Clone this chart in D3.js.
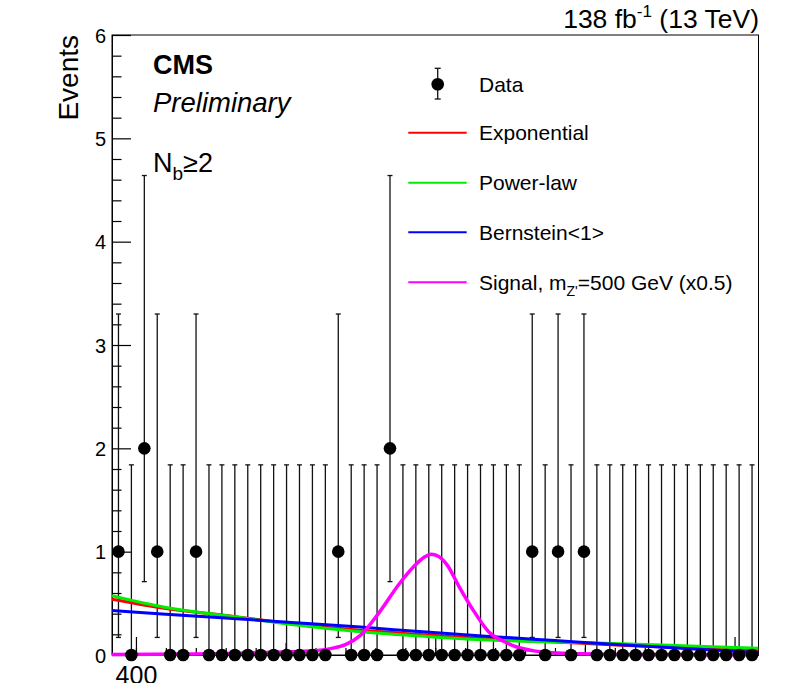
<!DOCTYPE html>
<html>
<head>
<meta charset="utf-8">
<script src="https://cdn.jsdelivr.net/npm/d3@7"></script>
<style>
  body { margin: 0; background: #fff; }
  svg text { font-family: "Liberation Sans", Arial, Helvetica, sans-serif; fill: #000; }
</style>
</head>
<body>
<div id="chart"></div>
<script>
// invariant mass window (GeV), 50 bins
var massRange = [392, 608];
var nBins = 50;
var counts = [1, 0, 2, 1, 0, 0, 1, 0, 0, 0,
              0, 0, 0, 0, 0, 0, 0, 1, 0, 0,
              0, 2, 0, 0, 0, 0, 0, 0, 0, 0,
              0, 0, 1, 0, 1, 0, 1, 0, 0, 0,
              0, 0, 0, 0, 0, 0, 0, 0, 0, 0];
// poisson 68% band, indexed by count
var poissonLow = [0, 0.17, 0.71];
var poissonHigh = [1.84, 3.30, 4.64];

// background fits, read at a few masses
var fitMass = [392, 410, 431, 452, 475, 497, 518, 540, 562, 585, 608];
var expoVals = [0.54, 0.45, 0.38, 0.30, 0.24, 0.195, 0.155, 0.125, 0.095, 0.07, 0.045];
var powVals = [0.574, 0.46, 0.377, 0.295, 0.226, 0.18, 0.145, 0.125, 0.11, 0.088, 0.065];
var bernVals = [0.43, 0.395, 0.355, 0.315, 0.27, 0.222, 0.18, 0.14, 0.10, 0.06, 0.022];

// signal shape (x0.5)
var sigMass = [392, 420, 431, 440, 450, 459, 465, 470, 475, 481.5, 488, 494, 496.5, 498.6, 501, 504, 508, 513, 518, 523, 527, 533, 541, 552, 562, 608];
var sigVals = [0.004, 0.01, 0.015, 0.022, 0.03, 0.04, 0.062, 0.10, 0.19, 0.42, 0.69, 0.89, 0.95, 0.975, 0.955, 0.87, 0.66, 0.42, 0.22, 0.13, 0.08, 0.04, 0.02, 0.01, 0.005, 0.002];

var yTicks = [0, 1, 2, 3, 4, 5, 6];
var xLabelTicks = [400];

var legendNames = ["Exponential", "Power-law", "Bernstein<1>"];
var legendColors = ["#ff0000", "#00ee00", "#0000ff"];

var W = 795, H = 683;
var pLeft = 112, pRight = 758.5, pTop = 35, pBottom = 655;

var svg = d3.select("#chart").append("svg")
    .attr("width", W).attr("height", H);

var x = d3.scaleLinear().domain(massRange).range([pLeft, pRight]);
var y = d3.scaleLinear().domain([0, 6]).range([pBottom, pTop]);

var binW = (massRange[1] - massRange[0]) / nBins;
var data = counts.map(function(c, i) {
    return { m: massRange[0] + (i + 0.5) * binW, n: c };
});

// frame
svg.append("rect")
    .attr("x", pLeft).attr("y", pTop)
    .attr("width", pRight - pLeft).attr("height", pBottom - pTop)
    .attr("fill", "none").attr("stroke", "#000").attr("stroke-width", 1);

// y axis, ticks pointing inside
var yMajor = svg.append("g")
    .attr("transform", "translate(" + pLeft + ",0)")
    .call(d3.axisLeft(y).tickValues(yTicks).tickSize(-19).tickSizeOuter(0).tickPadding(6).tickFormat(d3.format("d")));
yMajor.selectAll("text").style("font-size", "20px").attr("dy", "0.36em");
var yMinorVals = d3.range(0, 6.001, 0.2).filter(function(v) { return Math.abs(v - Math.round(v)) > 0.01; });
svg.append("g")
    .attr("transform", "translate(" + pLeft + ",0)")
    .call(d3.axisLeft(y).tickValues(yMinorVals).tickSize(-9.5).tickSizeOuter(0).tickFormat(""));

// x axis
var xMinorVals = d3.range(400, 601, 10);
svg.append("g")
    .attr("transform", "translate(0," + pBottom + ")")
    .call(d3.axisBottom(x).tickValues(xMinorVals).tickSize(-7).tickSizeOuter(0).tickFormat(""));
svg.append("g")
    .attr("transform", "translate(0," + pBottom + ")")
    .call(d3.axisBottom(x).tickValues([450, 550]).tickSize(-12).tickSizeOuter(0).tickFormat(""));
var xMajor = svg.append("g")
    .attr("transform", "translate(0," + pBottom + ")")
    .call(d3.axisBottom(x).tickValues([400, 500, 600]).tickSize(-18).tickSizeOuter(0).tickPadding(11)
        .tickFormat(function(d) { return xLabelTicks.indexOf(d) >= 0 ? d : ""; }));
xMajor.selectAll("text").style("font-size", "25px").attr("dy", "0.71em");
svg.selectAll(".domain").attr("stroke", "#000");
svg.selectAll(".tick line").attr("stroke", "#000").attr("stroke-width", 1.2);

// error bars
var eb = svg.append("g").attr("stroke", "#111").attr("stroke-width", 1.3);
data.forEach(function(d) {
    var xc = x(d.m);
    var lo = y(poissonLow[d.n]), hi = y(poissonHigh[d.n]);
    eb.append("line").attr("x1", xc).attr("x2", xc).attr("y1", lo).attr("y2", hi);
    eb.append("line").attr("x1", xc - 2.5).attr("x2", xc + 2.5).attr("y1", hi).attr("y2", hi);
    if (d.n > 0)
        eb.append("line").attr("x1", xc - 2.5).attr("x2", xc + 2.5).attr("y1", lo).attr("y2", lo);
});

// curves
svg.append("clipPath").attr("id", "plotclip")
    .append("rect").attr("x", pLeft).attr("y", pTop).attr("width", pRight - pLeft).attr("height", pBottom - pTop + 3);

function drawCurve(ms, vs, color, w) {
    var pts = ms.map(function(m, i) { return [x(m), y(vs[i])]; });
    svg.append("path")
        .attr("clip-path", "url(#plotclip)")
        .attr("d", d3.line().curve(d3.curveMonotoneX)(pts))
        .attr("fill", "none").attr("stroke", color).attr("stroke-width", w);
}
drawCurve(fitMass, expoVals, legendColors[0], 3);
drawCurve(fitMass, powVals, legendColors[1], 3);
drawCurve(fitMass, bernVals, legendColors[2], 3);
drawCurve(sigMass, sigVals, "#ff00ff", 3.5);

// markers
svg.append("g").selectAll("circle")
    .data(data).enter().append("circle")
    .attr("cx", function(d) { return x(d.m); })
    .attr("cy", function(d) { return y(d.n); })
    .attr("r", 6.3)
    .attr("fill", "#000");

// texts
svg.append("text")
    .attr("transform", "translate(78," + pTop + ") rotate(-90)")
    .attr("text-anchor", "end")
    .style("font-size", "28px")
    .text("Events");

var lumi = svg.append("text")
    .attr("x", 759).attr("y", 28)
    .attr("text-anchor", "end")
    .style("font-size", "26.5px");
lumi.append("tspan").text("138 fb");
lumi.append("tspan").attr("dy", -11).style("font-size", "17px").text("-1");
lumi.append("tspan").attr("dy", 11).text(" (13 TeV)");

svg.append("text").attr("x", 153).attr("y", 74)
    .style("font-size", "27px").style("font-weight", "bold").text("CMS");
svg.append("text").attr("x", 153).attr("y", 111.5)
    .style("font-size", "27.5px").style("font-style", "italic").text("Preliminary");
var nb = svg.append("text").attr("x", 153).attr("y", 171.5).style("font-size", "27px");
nb.append("tspan").text("N");
nb.append("tspan").attr("dy", 8).style("font-size", "19px").text("b");
nb.append("tspan").attr("dy", -8).text("\u22652");

// legend
var lg = svg.append("g");
var rowY = [84.3, 132.7, 182.7, 232.3, 282.3];
var lx1 = 408.3, lx2 = 466.7, tx = 479;
var mx = 437.7;
lg.append("line").attr("x1", mx).attr("x2", mx).attr("y1", 68.3).attr("y2", 99)
    .attr("stroke", "#111").attr("stroke-width", 1.3);
[68.3, 99].forEach(function(v) {
    lg.append("line").attr("x1", mx - 3).attr("x2", mx + 3).attr("y1", v).attr("y2", v)
        .attr("stroke", "#111").attr("stroke-width", 1.3);
});
lg.append("circle").attr("cx", mx).attr("cy", rowY[0]).attr("r", 6.3).attr("fill", "#000");
lg.append("text").attr("x", tx).attr("y", rowY[0]).attr("dy", "0.36em")
    .style("font-size", "21px").text("Data");

legendNames.forEach(function(name, i) {
    var yy = rowY[i + 1];
    lg.append("line").attr("x1", lx1).attr("x2", lx2).attr("y1", yy).attr("y2", yy)
        .attr("stroke", legendColors[i]).attr("stroke-width", 2);
    lg.append("text").attr("x", tx).attr("y", yy).attr("dy", "0.36em")
        .style("font-size", "21px").text(name);
});
lg.append("line").attr("x1", lx1).attr("x2", lx2).attr("y1", rowY[4]).attr("y2", rowY[4])
    .attr("stroke", "#ff00ff").attr("stroke-width", 2);
var sl = lg.append("text").attr("x", tx).attr("y", rowY[4]).attr("dy", "0.36em").style("font-size", "21px");
sl.append("tspan").text("Signal, m");
sl.append("tspan").attr("dy", 6).style("font-size", "14px").text("Z'");
sl.append("tspan").attr("dy", -6).text("=500 GeV (x0.5)");
</script>
</body>
</html>
